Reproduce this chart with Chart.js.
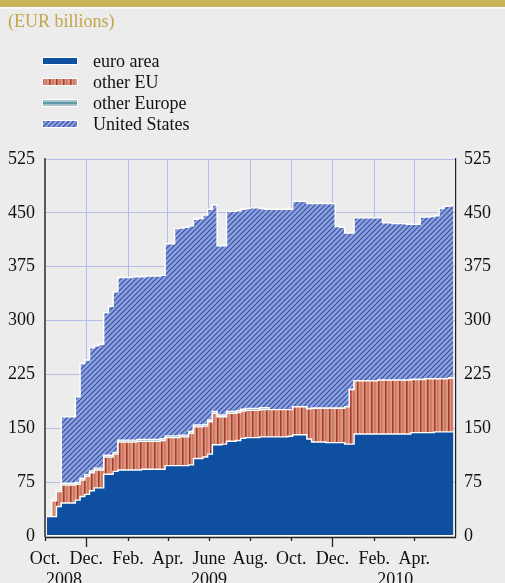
<!DOCTYPE html>
<html>
<head>
<meta charset="utf-8">
<script src="https://cdn.jsdelivr.net/npm/chart.js@4"></script>
<style>
  html, body { margin: 0; padding: 0; background: #ececec; }
  canvas { display: block; }
</style>
</head>
<body>
<canvas id="myChart" width="505" height="583"></canvas>
<script>
// weekly data, first week starts 3 Oct 2008 (days counted from 1 Oct 2008)
var firstDay = 3

var euroArea = [27, 27, 41, 46, 46, 46, 50, 55, 58, 63, 67, 67, 86, 86, 90, 92, 92, 92, 92, 92,
  93, 93, 93, 93, 93, 98, 98, 98, 98, 98, 99, 108, 108, 110, 114, 127, 127, 128, 132, 132,
  133, 136, 137, 137, 137, 138, 138, 138, 138, 138, 138, 139, 141, 141, 141, 135, 131, 131, 131, 130,
  130, 130, 130, 128, 128, 142, 142, 142, 142, 142, 142, 142, 142, 142, 142, 142, 142, 144, 144, 144,
  144, 144, 145, 145, 145, 145]

var otherEU = [0, 22, 21, 25, 25, 25, 22, 23, 25, 25, 25, 25, 24, 24, 24, 39, 39, 39, 39, 40,
  39, 39, 39, 39, 40, 39, 39, 39, 40, 40, 44, 44, 44, 43, 45, 44, 39, 38, 39, 39,
  39, 38, 38, 38, 38, 38, 38, 38, 38, 38, 38, 37, 39, 39, 39, 42, 47, 47, 47, 48,
  48, 48, 48, 52, 76, 74, 74, 74, 74, 74, 75, 75, 75, 75, 75, 75, 75, 74, 74, 74,
  75, 75, 74, 74, 74, 75]

var otherEurope = [0, 2.5, 2.5, 2.5, 2.5, 2.5, 2.5, 2.5, 2.5, 2.5, 2.5, 2.5, 2.5, 2.5, 2.5, 2.5, 2.5, 2.5, 2.5, 2.5,
  2.5, 2.5, 2.5, 2.5, 2.5, 2.5, 2.5, 2.5, 2.5, 2.5, 2.5, 2.5, 2.5, 2.5, 2.5, 2.5, 2.5, 2.5, 2.5, 2.5,
  2.5, 2.5, 2.5, 2.5, 2.5, 2.5, 2.5, 0, 0, 0, 0, 0, 0, 0, 0, 0, 0, 0, 0, 0,
  0, 0, 0, 0, 0, 0, 0, 0, 0, 0, 0, 0, 0, 0, 0, 0, 0, 0, 0, 0,
  0, 0, 0, 0, 0, 0]

var unitedStates = [0, 0, 0, 92.5, 92.5, 92.5, 119.5, 159.5, 159.5, 171.5, 170.5, 172.5, 198.5, 207.5, 223.5, 226.5, 226.5, 226.5, 227.5, 226.5,
  226.5, 227.5, 227.5, 227.5, 227.5, 267.5, 267.5, 288.5, 288.5, 289.5, 286.5, 286.5, 287.5, 291.5, 293.5, 287.5, 235.5, 235.5, 278.5, 278.5,
  278.5, 278.5, 278.5, 279.5, 279.5, 277.5, 276.5, 279, 279, 279, 279, 279, 286, 286, 286, 286, 285, 285, 285, 285,
  285, 253, 252, 242, 218, 227, 227, 227, 227, 227, 226, 219, 219, 218, 218, 218, 217, 216, 216, 226,
  225, 226, 227, 237, 240, 240]

var tickDays = [0, 61, 123, 182, 243, 304, 365, 426, 488, 547]
var tickLabels = ['Oct.', 'Dec.', 'Feb.', 'Apr.', 'June', 'Aug.', 'Oct.', 'Dec.', 'Feb.', 'Apr.']
var longTickDays = [61, 426]
var yearDays = [28, 243, 519]
var yearLabels = ['2008', '2009', '2010']

var seriesNames = ['euro area', 'other EU', 'other Europe', 'United States']

var serif = '"Liberation Serif", "Times New Roman", serif'

const ctx = document.getElementById('myChart').getContext('2d')

function makePattern (w, h, draw) {
  var c = document.createElement('canvas')
  c.width = w
  c.height = h
  draw(c.getContext('2d'))
  return ctx.createPattern(c, 'repeat')
}

var euroFill = '#0e4f9f'
var otherEUFill = makePattern(7, 7, function (g) {
  g.fillStyle = '#d9987f'
  g.fillRect(0, 0, 7, 7)
  g.fillStyle = '#ab3a2c'
  g.fillRect(0, 0, 1.6, 7)
  g.fillStyle = '#bf5c4c'
  g.fillRect(3.5, 0, 0.9, 7)
})
var otherEuropeFill = '#6fa7b1'
var usFill = makePattern(5, 5, function (g) {
  g.fillStyle = '#8fa0da'
  g.fillRect(0, 0, 5, 5)
  g.strokeStyle = '#2f4fa8'
  g.lineWidth = 1.1
  g.beginPath()
  g.moveTo(-1, 6); g.lineTo(6, -1)
  g.moveTo(-1, 1); g.lineTo(1, -1)
  g.moveTo(4, 6); g.lineTo(6, 4)
  g.stroke()
})

function toPoints (arr) {
  var pts = arr.map(function (v, i) { return { x: firstDay + 7 * i, y: v } })
  pts.push({ x: firstDay + 7 * arr.length, y: arr[arr.length - 1] })
  return pts
}

function layer (label, values, fill, target) {
  return {
    label: label,
    data: toPoints(values),
    backgroundColor: fill,
    borderColor: '#ffffff',
    borderWidth: 1.4,
    pointRadius: 0,
    stepped: true,
    fill: target,
    yAxisID: 'y'
  }
}

var frame = {
  id: 'frame',
  beforeDraw: function (chart) {
    var c = chart.ctx
    c.save()
    c.fillStyle = '#ececec'
    c.fillRect(0, 0, chart.width, chart.height)
    c.fillStyle = '#c9b458'
    c.fillRect(0, 0, chart.width, 7)
    c.fillStyle = '#ffffff'
    c.fillRect(0, 7, chart.width, 1.5)
    c.font = '18px ' + serif
    c.textBaseline = 'middle'
    c.fillStyle = '#c2a649'
    c.fillText('(EUR billions)', 8, 22)

    // legend
    var fills = [euroFill, otherEUFill, '#a9c1c9', usFill]
    for (var i = 0; i < seriesNames.length; i++) {
      var y = 61 + i * 21
      c.fillStyle = '#ffffff'
      c.fillRect(42, y - 4, 36, 8)
      c.fillStyle = fills[i]
      c.fillRect(43, y - 3, 34, 6)
      if (i === 2) {
        c.fillStyle = '#3d8c98'
        c.fillRect(43, y - 0.7, 34, 1.4)
      }
      c.fillStyle = '#111111'
      c.fillText(seriesNames[i], 93, y + 1)
    }
    c.restore()
  },
  afterDraw: function (chart) {
    var c = chart.ctx
    var xs = chart.scales.x
    var a = chart.chartArea
    c.save()
    // white edge round the plotted block
    c.strokeStyle = '#ffffff'
    c.lineWidth = 1.2
    c.beginPath()
    c.moveTo(a.left + 1, a.bottom - 0.5)
    c.lineTo(xs.getPixelForValue(firstDay + 7 * euroArea.length) + 1, a.bottom - 0.5)
    c.stroke()
    // axis ticks
    c.strokeStyle = '#222222'
    c.lineWidth = 1.3
    c.beginPath()
    c.moveTo(a.left, a.bottom + 1.5)
    c.lineTo(a.right, a.bottom + 1.5)
    tickDays.forEach(function (d) {
      var px = Math.round(xs.getPixelForValue(d)) + 0.5
      var len = longTickDays.indexOf(d) >= 0 ? 10 : 4
      c.moveTo(px, a.bottom + 1)
      c.lineTo(px, a.bottom + 1 + len)
    })
    c.stroke()
    // years
    c.font = '18px ' + serif
    c.fillStyle = '#111111'
    c.textAlign = 'center'
    c.textBaseline = 'middle'
    yearDays.forEach(function (d, i) {
      c.fillText(yearLabels[i], xs.getPixelForValue(d), 580)
    })
    c.restore()
  }
}

new Chart(ctx, {
  type: 'line',
  data: {
    datasets: [
      layer(seriesNames[0], euroArea, euroFill, 'origin'),
      layer(seriesNames[1], otherEU, otherEUFill, '-1'),
      layer(seriesNames[2], otherEurope, otherEuropeFill, '-1'),
      layer(seriesNames[3], unitedStates, usFill, '-1')
    ]
  },
  options: {
    responsive: false,
    animation: false,
    devicePixelRatio: 1,
    layout: { padding: { top: 159, left: 0, right: 0, bottom: 0 } },
    plugins: {
      legend: { display: false },
      tooltip: { enabled: false }
    },
    scales: {
      x: {
        type: 'linear',
        min: 0,
        max: 609,
        afterBuildTicks: function (scale) {
          scale.ticks = tickDays.map(function (d) { return { value: d } })
        },
        afterFit: function (scale) { scale.height = 47 },
        ticks: {
          autoSkip: false,
          maxRotation: 0,
          padding: 12,
          color: '#111111',
          font: { family: serif, size: 18 },
          callback: function (v, i) { return tickLabels[i] }
        },
        grid: {
          drawTicks: false,
          color: function (c) { return c.index === 0 ? 'rgba(0,0,0,0)' : '#b4bde6' },
          lineWidth: 1
        },
        border: { display: false }
      },
      y: {
        stacked: true,
        position: 'left',
        min: 0,
        max: 525,
        afterFit: function (scale) { scale.width = 45 },
        ticks: {
          stepSize: 75,
          padding: 10,
          color: '#111111',
          font: { family: serif, size: 18 }
        },
        grid: {
          drawTicks: false,
          color: function (c) { return c.tick.value === 0 ? 'rgba(0,0,0,0)' : '#b4bde6' },
          lineWidth: 1
        },
        border: { display: true, color: '#5a5a5a', width: 2 }
      },
      y2: {
        position: 'right',
        min: 0,
        max: 525,
        afterFit: function (scale) { scale.width = 49 },
        ticks: {
          stepSize: 75,
          padding: 8,
          color: '#111111',
          font: { family: serif, size: 18 }
        },
        grid: { display: false, drawTicks: false },
        border: { display: true, color: '#222222', width: 1.2 }
      }
    }
  },
  plugins: [frame]
})
</script>
</body>
</html>
